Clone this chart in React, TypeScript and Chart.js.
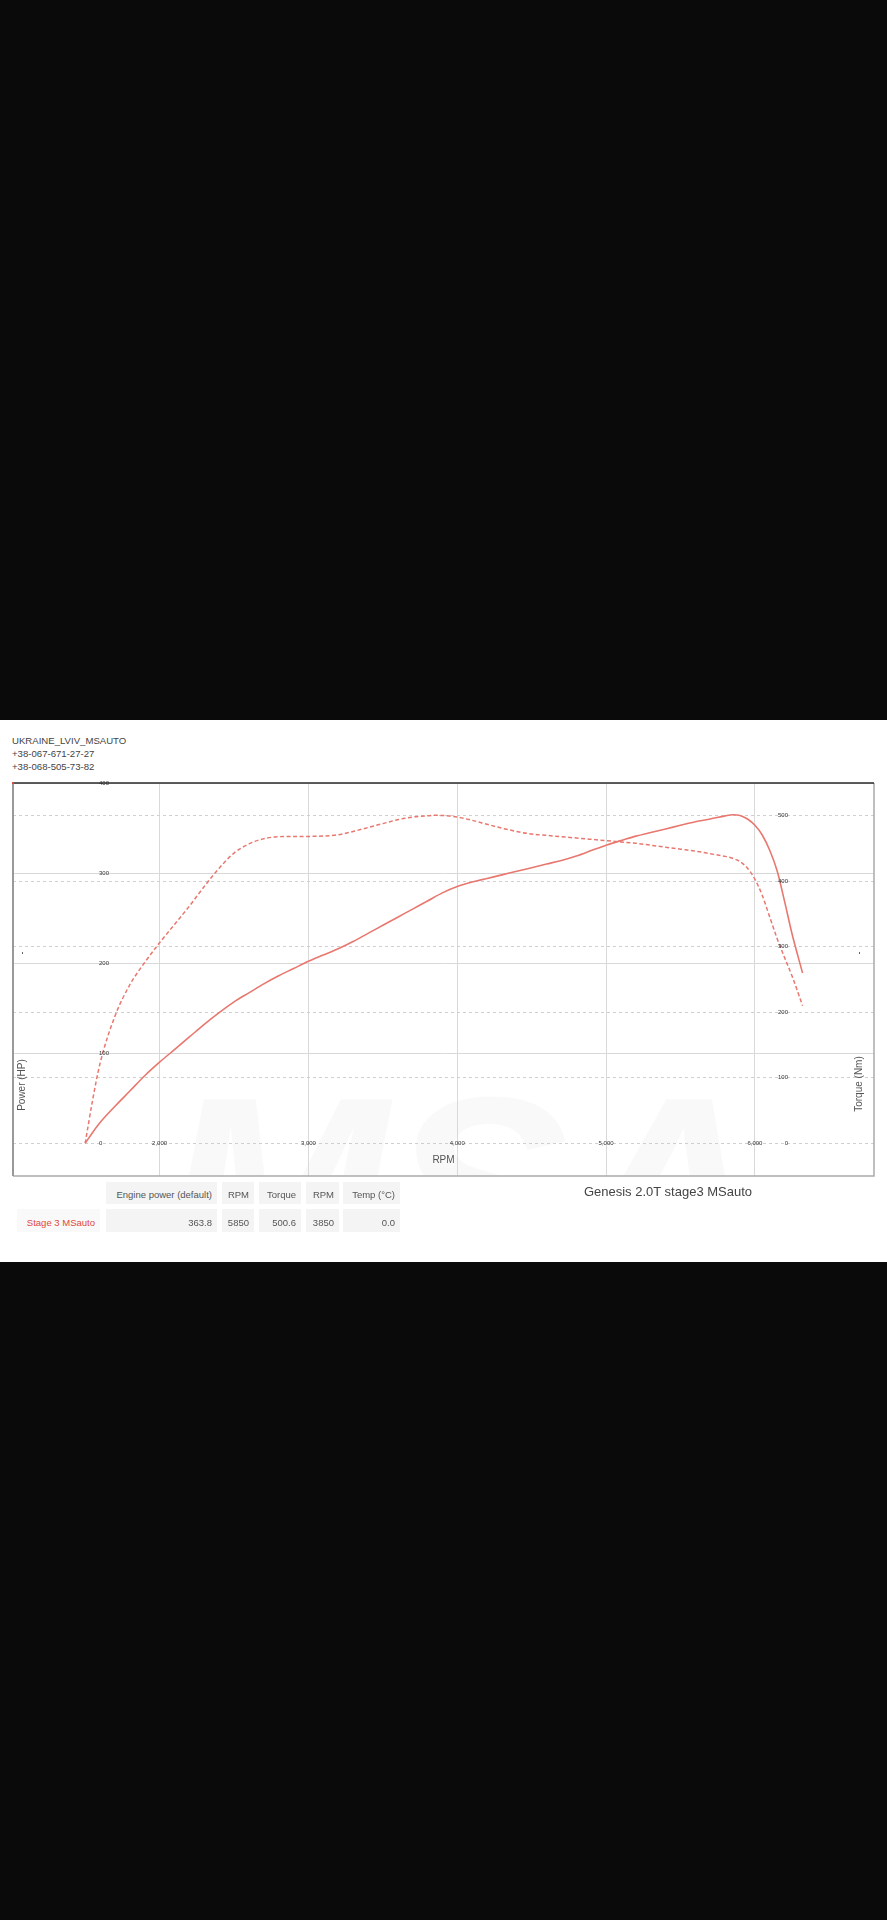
import React, { useEffect, useRef } from "react";
import { Chart, registerables } from "chart.js";

Chart.register(...registerables);

// ---- data ----
const rpmPower = [1500, 1550, 1600, 1700, 1800, 1900, 2000, 2100, 2200, 2300, 2400, 2500, 2600, 2700, 2800, 2900, 3000, 3100, 3200, 3300, 3400, 3500, 3600, 3700, 3800, 3900, 4000, 4100, 4200, 4300, 4400, 4500, 4600, 4700, 4800, 4900, 5000, 5100, 5200, 5300, 5400, 5500, 5600, 5700, 5800, 5850, 5900, 5950, 6000, 6050, 6100, 6150, 6200, 6250, 6320];
const powerHp = [0, 12, 23, 41, 58, 75, 90, 104, 118, 132, 145, 157, 167, 177, 186, 194, 202, 209, 216, 224, 233, 242, 251, 260, 269, 278, 285, 290, 294, 298, 302, 306, 310, 314, 319, 325, 331, 336, 341, 345, 349, 353, 357, 360, 363.5, 364.8, 364, 360, 353, 342, 325, 302, 268, 232, 189];

const rpmTorque = [1500, 1550, 1600, 1700, 1800, 1900, 2000, 2100, 2200, 2300, 2400, 2500, 2600, 2700, 2800, 2900, 3000, 3100, 3200, 3300, 3400, 3500, 3600, 3700, 3800, 3850, 3900, 4000, 4100, 4200, 4300, 4400, 4500, 4600, 4700, 4800, 4900, 5000, 5100, 5200, 5300, 5400, 5500, 5600, 5700, 5800, 5850, 5900, 5950, 6000, 6050, 6100, 6150, 6200, 6250, 6320];
const torqueNm = [0, 66, 122, 194, 242, 276, 306, 334, 362, 392, 420, 443, 457, 465, 468, 468.5, 468.5, 469, 471, 476, 482, 488, 494, 498, 500, 500.6, 500.5, 498, 493, 487, 481, 476, 472, 470, 468, 466, 464, 462, 460, 458, 455, 452, 449, 446, 442, 438, 435, 430, 420, 403, 378, 345, 312, 283, 255, 210];

const rpmTicks = [2000, 3000, 4000, 5000, 6000];
const hpTicks = [0, 100, 200, 300, 400];
const torqueTicks = [0, 100, 200, 300, 400, 500];

const headerLines = ["UKRAINE_LVIV_MSAUTO", "+38-067-671-27-27", "+38-068-505-73-82"];
const chartTitle = "Genesis 2.0T stage3 MSauto";
const tableHeader = ["", "Engine power (default)", "RPM", "Torque", "RPM", "Temp (°C)"];
const tableRow = ["Stage 3 MSauto", "363.8", "5850", "500.6", "3850", "0.0"];

const LINE = "#e8786f";
const FONT = "'Liberation Sans', Arial, sans-serif";

const colLeft = [17, 106, 222, 259, 306, 343];
const colRight = [100, 217, 254, 301, 339, 400];

const overlay = {
  id: "overlay",
  beforeDraw(chart: any) {
    const { ctx, chartArea: a } = chart;
    ctx.save();
    ctx.fillStyle = "#ffffff";
    ctx.fillRect(0, 0, chart.width, chart.height);
    ctx.beginPath();
    ctx.rect(a.left, a.top, a.right - a.left, a.bottom - a.top);
    ctx.clip();
    ctx.fillStyle = "rgba(0,0,0,0.025)";
    ctx.font = `italic bold 270px ${FONT}`;
    ctx.textBaseline = "alphabetic";
    ctx.fillText("MSA", a.left + 150, a.bottom + 109);
    ctx.restore();
  },
  afterDatasetsDraw(chart: any) {
    const { ctx, chartArea: a, scales } = chart;
    const x = scales.x, y = scales.y, y2 = scales.y2;
    ctx.save();
    ctx.fillStyle = "#333";
    ctx.font = `6px ${FONT}`;
    ctx.textBaseline = "middle";
    ctx.textAlign = "left";
    hpTicks.forEach((v) => ctx.fillText(String(v), a.left + 86, y.getPixelForValue(v)));
    ctx.textAlign = "right";
    torqueTicks.forEach((v) => ctx.fillText(String(v), a.left + 775, y2.getPixelForValue(v)));
    ctx.textAlign = "center";
    const zeroY = y.getPixelForValue(0);
    rpmTicks.forEach((v) => ctx.fillText(v.toLocaleString("en-US"), x.getPixelForValue(v), zeroY));

    ctx.fillStyle = "#555";
    ctx.font = `10px ${FONT}`;
    ctx.fillText("RPM", (a.left + a.right) / 2, a.bottom - 16);
    ctx.save();
    ctx.translate(a.left + 9, a.top + 302);
    ctx.rotate(-Math.PI / 2);
    ctx.fillText("Power (HP)", 0, 0);
    ctx.restore();
    ctx.save();
    ctx.translate(a.right - 15, a.top + 301);
    ctx.rotate(-Math.PI / 2);
    ctx.fillText("Torque (Nm)", 0, 0);
    ctx.restore();

    // tiny markers
    ctx.fillStyle = "#666";
    ctx.fillRect(a.left + 9, a.top + 169, 1, 2);
    ctx.fillRect(a.right - 15, a.top + 169, 1, 2);

    // frame
    ctx.lineWidth = 1.5;
    ctx.strokeStyle = "#aaaaaa";
    ctx.beginPath();
    ctx.moveTo(a.left, a.bottom);
    ctx.lineTo(a.right, a.bottom);
    ctx.lineTo(a.right, a.top);
    ctx.stroke();
    ctx.lineWidth = 2;
    ctx.strokeStyle = "#999999";
    ctx.beginPath();
    ctx.moveTo(a.left, a.top);
    ctx.lineTo(a.left, a.bottom);
    ctx.stroke();
    ctx.lineWidth = 1.5;
    ctx.strokeStyle = "#2a2a2a";
    ctx.beginPath();
    ctx.moveTo(a.left, a.top);
    ctx.lineTo(a.right, a.top);
    ctx.stroke();
    ctx.fillStyle = "#e04a3a";
    ctx.fillRect(a.left - 1, a.top - 1, 2, 2);
    ctx.restore();
  },
};

function DynoChart() {
  const ref = useRef<HTMLCanvasElement>(null);
  useEffect(() => {
    if (!ref.current) return;
    const chart = new Chart(ref.current, {
      type: "line",
      data: {
        datasets: [
          {
            label: "Power (HP)",
            data: rpmPower.map((r, i) => ({ x: r, y: powerHp[i] })),
            yAxisID: "y",
            borderColor: LINE,
            borderWidth: 1.6,
            pointRadius: 0,
            cubicInterpolationMode: "monotone",
            fill: false,
          },
          {
            label: "Torque (Nm)",
            data: rpmTorque.map((r, i) => ({ x: r, y: torqueNm[i] })),
            yAxisID: "y2",
            borderColor: LINE,
            borderWidth: 1.5,
            borderDash: [4, 2.5],
            pointRadius: 0,
            cubicInterpolationMode: "monotone",
            fill: false,
          },
        ],
      },
      options: {
        animation: false,
        responsive: false,
        devicePixelRatio: 1,
        layout: { padding: { left: 13, top: 8, right: 13, bottom: 9 } },
        plugins: { legend: { display: false }, tooltip: { enabled: false } },
        scales: {
          x: {
            type: "linear",
            min: 1015,
            max: 6800,
            afterBuildTicks: (s: any) => { s.ticks = rpmTicks.map((v) => ({ value: v })); },
            afterFit: (s: any) => { s.height = 0; },
            ticks: { display: false },
            grid: { color: "#d9d9d9", lineWidth: 1, drawTicks: false },
            border: { display: false },
          },
          y: {
            type: "linear",
            position: "left",
            min: -400 / 11,
            max: 400,
            afterBuildTicks: (s: any) => { s.ticks = [100, 200, 300, 400].map((v) => ({ value: v })); },
            afterFit: (s: any) => { s.width = 0; },
            ticks: { display: false },
            grid: { color: "#d9d9d9", lineWidth: 1, drawTicks: false },
            border: { display: false },
          },
          y2: {
            type: "linear",
            position: "right",
            min: -50,
            max: 550,
            afterBuildTicks: (s: any) => { s.ticks = torqueTicks.map((v) => ({ value: v })); },
            afterFit: (s: any) => { s.width = 0; },
            ticks: { display: false },
            grid: { color: "#cfcfcf", lineWidth: 1, drawTicks: false },
            border: { display: false, dash: [3, 3] },
          },
        },
      },
      plugins: [overlay],
    } as any);
    return () => chart.destroy();
  }, []);
  return (
    <canvas
      ref={ref}
      width={887}
      height={410}
      style={{ position: "absolute", left: 0, top: 775, width: 887, height: 410 }}
    />
  );
}

export default function App() {
  useEffect(() => {
    document.body.style.margin = "0";
    document.body.style.background = "#0a0a0a";
  }, []);
  const cellBase: React.CSSProperties = {
    position: "absolute",
    boxSizing: "border-box",
    textAlign: "right",
    paddingRight: 5,
    fontFamily: FONT,
    fontSize: 9.5,
    color: "#555",
    whiteSpace: "nowrap",
  };
  return (
    <div style={{ position: "relative", width: 887, height: 1920, background: "#0a0a0a", overflow: "hidden" }}>
      <div style={{ position: "absolute", left: 0, top: 720, width: 887, height: 542, background: "#ffffff" }} />
      {headerLines.map((t, i) => (
        <div
          key={i}
          style={{
            position: "absolute",
            left: 12,
            top: 734 + i * 13,
            height: 13,
            lineHeight: "13px",
            fontFamily: FONT,
            fontSize: 9.6,
            color: "#444",
            whiteSpace: "nowrap",
          }}
        >
          {t}
        </div>
      ))}
      <DynoChart />
      {tableHeader.map((t, i) =>
        i === 0 ? null : (
          <div
            key={"h" + i}
            style={{
              ...cellBase,
              left: colLeft[i],
              width: colRight[i] - colLeft[i],
              top: 1182,
              height: 22,
              lineHeight: "26px",
              background: "#f4f4f4",
            }}
          >
            {t}
          </div>
        )
      )}
      {tableRow.map((t, i) => (
        <div
          key={"r" + i}
          style={{
            ...cellBase,
            left: colLeft[i],
            width: colRight[i] - colLeft[i],
            top: 1209,
            height: 23,
            lineHeight: "27px",
            background: i === 0 ? "#f9f9f9" : "#f4f4f4",
            color: i === 0 ? "#e0483c" : "#555",
          }}
        >
          {t}
        </div>
      ))}
      <div
        style={{
          position: "absolute",
          left: 468,
          width: 400,
          top: 1183,
          height: 18,
          lineHeight: "18px",
          textAlign: "center",
          fontFamily: FONT,
          fontSize: 13,
          color: "#444",
          whiteSpace: "nowrap",
        }}
      >
        {chartTitle}
      </div>
    </div>
  );
}
